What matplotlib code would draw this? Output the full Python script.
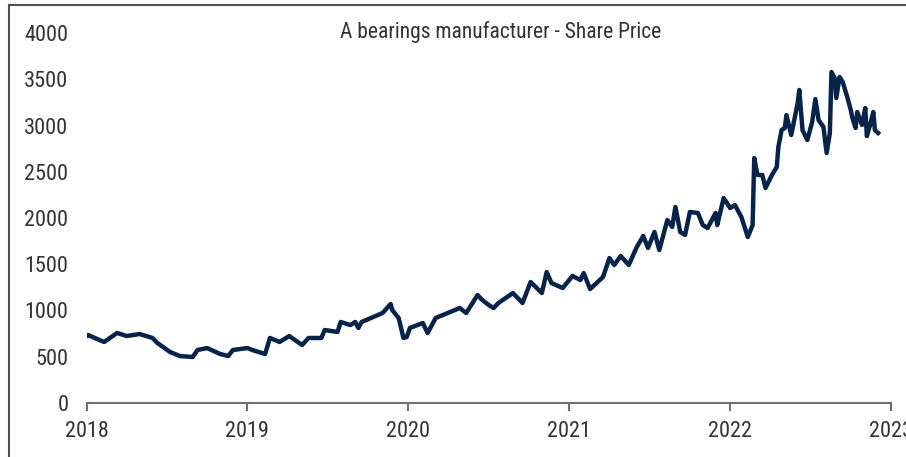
import matplotlib
matplotlib.use('Agg')
import matplotlib.pyplot as plt
from matplotlib.lines import Line2D

# share price (decimal year, price)
years = [2018.00, 2018.01, 2018.08, 2018.11, 2018.19, 2018.25, 2018.33, 2018.41, 2018.44,
         2018.52, 2018.58, 2018.66, 2018.69, 2018.75, 2018.83, 2018.88, 2018.91, 2019.00,
         2019.03, 2019.11, 2019.14, 2019.20, 2019.26, 2019.34, 2019.38, 2019.46, 2019.48,
         2019.56, 2019.58, 2019.64, 2019.67, 2019.69, 2019.71, 2019.81, 2019.84, 2019.89,
         2019.90, 2019.94, 2019.97, 2019.99, 2020.01, 2020.09, 2020.12, 2020.17, 2020.26,
         2020.32, 2020.36, 2020.43, 2020.46, 2020.50, 2020.53, 2020.56, 2020.65, 2020.71,
         2020.76, 2020.83, 2020.86, 2020.89, 2020.96, 2021.02, 2021.07, 2021.09, 2021.13,
         2021.21, 2021.25, 2021.28, 2021.32, 2021.37, 2021.42, 2021.46, 2021.49, 2021.53,
         2021.56, 2021.61, 2021.64, 2021.66, 2021.69, 2021.72, 2021.75, 2021.80, 2021.83,
         2021.86, 2021.91, 2021.92, 2021.96, 2022.00, 2022.03, 2022.07, 2022.11, 2022.14,
         2022.15, 2022.17, 2022.20, 2022.22, 2022.26, 2022.29, 2022.30, 2022.32, 2022.34,
         2022.35, 2022.38, 2022.42, 2022.43, 2022.45, 2022.48, 2022.51, 2022.53, 2022.55,
         2022.58, 2022.60, 2022.62, 2022.63, 2022.65, 2022.66, 2022.68, 2022.70, 2022.73,
         2022.75, 2022.76, 2022.78, 2022.79, 2022.82, 2022.84, 2022.85, 2022.87, 2022.89,
         2022.90, 2022.92]
price = [724, 735, 681, 660, 757, 724, 746, 703, 649,
         551, 508, 497, 573, 594, 530, 508, 573, 594,
         573, 530, 703, 660, 724, 627, 703, 703, 789,
         768, 876, 843, 876, 811, 876, 951, 973, 1070,
         1005, 919, 703, 713, 811, 865, 757, 919, 984,
         1027, 973, 1167, 1113, 1059, 1027, 1081, 1189, 1081,
         1308, 1189, 1416, 1297, 1243, 1373, 1330, 1405, 1232,
         1362, 1567, 1492, 1589, 1492, 1686, 1805, 1676, 1849,
         1654, 1978, 1903, 2119, 1849, 1816, 2065, 2054, 1924,
         1892, 2054, 1924, 2216, 2108, 2140, 2011, 1795, 1924,
         2648, 2465, 2465, 2324, 2465, 2551, 2767, 2951, 2973,
         3113, 2897, 3243, 3384, 2951, 2843, 3038, 3286, 3059,
         2984, 2703, 2919, 3578, 3513, 3297, 3524, 3470, 3297,
         3167, 3081, 2973, 3146, 3005, 3189, 2886, 3005, 3146,
         2951, 2919]

xticks = [2018, 2019, 2020, 2021, 2022, 2023]
yticks = [0, 500, 1000, 1500, 2000, 2500, 3000, 3500, 4000]
title = 'A bearings manufacturer - Share Price'

font = ['Liberation Sans Narrow', 'Roboto Condensed', 'DejaVu Sans Condensed', 'DejaVu Sans']
plt.rcParams['font.family'] = font
plt.rcParams['font.stretch'] = 'condensed'

fig = plt.figure(figsize=(9.06, 4.57), dpi=100)
ax = fig.add_axes([86.5 / 906, 54 / 457, (891 - 86.5) / 906, 370 / 457])

ax.plot(years, price, color='#08234a', lw=3.2, solid_joinstyle='round')

ax.set_xlim(2018, 2023)
ax.set_ylim(0, 4000)
ax.set_xticks(xticks)
ax.set_yticks(yticks)
ax.tick_params(axis='x', length=6, width=1.5, color='#707070', pad=7,
               labelsize=16, labelcolor='#333333')
ax.tick_params(axis='y', length=0, pad=13, labelsize=16, labelcolor='#333333')
for s in ['top', 'right', 'left']:
    ax.spines[s].set_visible(False)
ax.spines['bottom'].set_color('#707070')
ax.spines['bottom'].set_linewidth(1.5)

fig.text(501 / 906, 1 - 32 / 457, title, ha='center', va='center',
         fontsize=15.5, color='#333333')

# outer frame (top and left edges)
fig.add_artist(Line2D([9 / 906, 1], [1 - 4.5 / 457, 1 - 4.5 / 457], color='#505050', lw=1.5))
fig.add_artist(Line2D([9 / 906, 9 / 906], [0, 1 - 4.5 / 457], color='#505050', lw=1.5))

fig.savefig('out.png', dpi=100)
